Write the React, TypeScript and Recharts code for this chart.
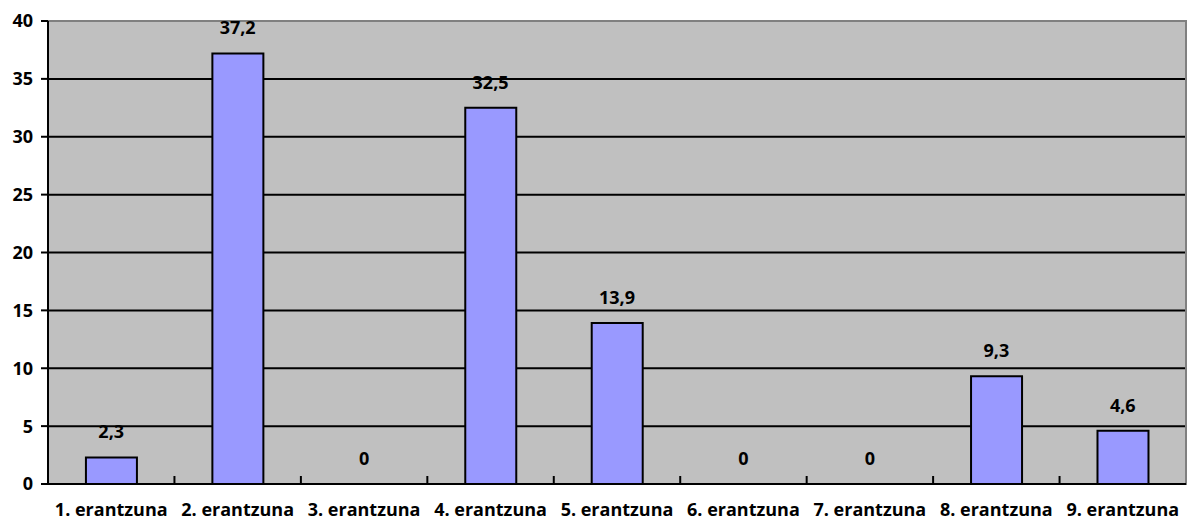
import { Bar, CartesianGrid, ComposedChart, Line, ReferenceArea, XAxis, YAxis } from "recharts";

const categories = [
  "1. erantzuna",
  "2. erantzuna",
  "3. erantzuna",
  "4. erantzuna",
  "5. erantzuna",
  "6. erantzuna",
  "7. erantzuna",
  "8. erantzuna",
  "9. erantzuna",
];
const values = [2.3, 37.2, 0, 32.5, 13.9, 0, 0, 9.3, 4.6];
const yTicks = [0, 5, 10, 15, 20, 25, 30, 35, 40];
const gridValues = [5, 10, 15, 20, 25, 30, 35];

const data = categories.map((name, i) => ({ name, value: values[i] }));

const FONT = "'Open Sans', sans-serif";
const FS = 18;
const BAND = 1138 / categories.length;

function CategoryTick(props: any) {
  const { x, y, payload } = props;
  const left = x - BAND / 2;
  return (
    <g>
      {payload.index > 0 && (
        <line x1={left} x2={left} y1={y - 8} y2={y} stroke="#000" strokeWidth={2} />
      )}
      <text x={x} y={y + 32} textAnchor="middle" fontFamily={FONT} fontWeight={700} fontSize={FS} fill="#000">
        {payload.value}
      </text>
    </g>
  );
}

// labels sit on an invisible line so zero values get one too
function ValueLabel(props: any) {
  const { x, y, value } = props;
  return (
    <text
      x={x}
      y={Number(y) - 19}
      textAnchor="middle"
      fontFamily={FONT}
      fontWeight={700}
      fontSize={FS}
      fill="#000"
    >
      {String(value).replace(".", ",")}
    </text>
  );
}

export default function App() {
  return (
    <div style={{ position: "fixed", left: 0, top: 0, width: 1191, height: 527, background: "#fff" }}>
      <ComposedChart
        width={1191}
        height={527}
        data={data}
        margin={{ top: 21, right: 5, bottom: 0, left: 0 }}
        barCategoryGap="30%"
      >
        <CartesianGrid
          vertical={false}
          horizontalValues={gridValues}
          stroke="#000"
          strokeWidth={2}
          fill="#c0c0c0"
          fillOpacity={1}
        />
        <ReferenceArea y1={0} y2={40} fill="none" stroke="#808080" strokeWidth={2} />
        <XAxis
          dataKey="name"
          stroke="#000"
          strokeWidth={2}
          tickLine={false}
          tickSize={0}
          tickMargin={0}
          height={43}
          interval={0}
          tick={<CategoryTick />}
        />
        <YAxis
          domain={[0, 40]}
          ticks={yTicks}
          width={48}
          stroke="#000"
          strokeWidth={2}
          tickSize={7}
          tickMargin={8}
          tick={{ fill: "#000", fontFamily: FONT, fontWeight: 700, fontSize: FS }}
        />
        <Bar dataKey="value" fill="#9999ff" stroke="#000" strokeWidth={2} isAnimationActive={false} />
        <Line
          dataKey="value"
          stroke="none"
          dot={false}
          activeDot={false}
          label={<ValueLabel />}
          isAnimationActive={false}
        />
      </ComposedChart>
    </div>
  );
}
